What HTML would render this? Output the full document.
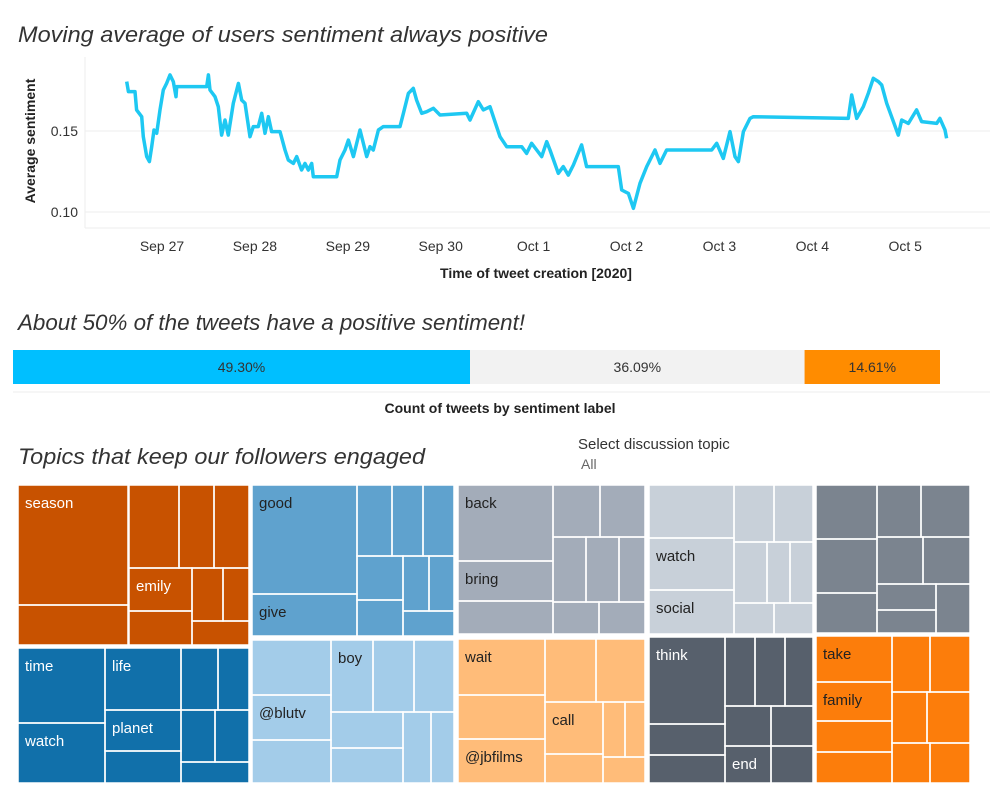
<!DOCTYPE html>
<html><head><meta charset="utf-8"><style>
body{margin:0;background:#fff;font-family:"Liberation Sans",sans-serif;}
svg text{font-family:"Liberation Sans",sans-serif;}
</style></head><body>
<svg id="dash" width="1000" height="800" viewBox="0 0 1000 800">
<text x="18" y="42" font-size="22" font-style="italic" fill="#333" textLength="530" lengthAdjust="spacingAndGlyphs">Moving average of users sentiment always positive</text>
<g id="linechart"></g>
<text x="18" y="330" font-size="22" font-style="italic" fill="#333" textLength="507" lengthAdjust="spacingAndGlyphs">About 50% of the tweets have a positive sentiment!</text>
<g id="barchart"></g>
<line x1="13" y1="392" x2="990" y2="392" stroke="#eee"/>
<text x="500" y="413" font-size="14" font-weight="bold" text-anchor="middle" fill="#222">Count of tweets by sentiment label</text>
<text x="18" y="464" font-size="22" font-style="italic" fill="#333" textLength="407" lengthAdjust="spacingAndGlyphs">Topics that keep our followers engaged</text>
<text x="578" y="449" font-size="15" fill="#333">Select discussion topic</text>
<text x="581" y="469" font-size="14" fill="#666">All</text>
<g id="treemap"></g>
</svg>
<script>
const NS="http://www.w3.org/2000/svg";
function mk(tag,attrs,parent){const e=document.createElementNS(NS,tag);for(const k in attrs)e.setAttribute(k,attrs[k]);parent.appendChild(e);return e;}

// ---- line chart data (days since Sep 27 00:00, value) ----
const days=[-0.380,-0.362,-0.291,-0.273,-0.219,-0.201,-0.165,-0.136,-0.111,-0.086,-0.057,-0.022,0.014,0.050,0.086,0.122,0.151,0.158,0.481,0.499,0.517,0.570,0.606,0.642,0.678,0.714,0.768,0.822,0.858,0.893,0.947,0.983,1.037,1.073,1.109,1.145,1.180,1.270,1.324,1.360,1.414,1.450,1.503,1.539,1.575,1.611,1.629,1.880,1.916,1.970,2.006,2.060,2.131,2.203,2.239,2.275,2.329,2.382,2.562,2.598,2.652,2.705,2.741,2.795,2.849,2.921,2.992,3.280,3.315,3.405,3.459,3.531,3.602,3.638,3.710,3.872,3.925,3.979,4.033,4.087,4.141,4.177,4.266,4.320,4.374,4.428,4.517,4.571,4.912,4.948,5.020,5.074,5.145,5.217,5.307,5.361,5.432,5.917,5.971,6.042,6.114,6.168,6.204,6.258,6.329,6.365,7.388,7.424,7.478,7.549,7.603,7.657,7.711,7.747,7.801,7.854,7.926,7.962,8.034,8.123,8.177,8.339,8.374,8.428,8.446];
const sentiment=[0.1805,0.1743,0.1743,0.1630,0.1588,0.1465,0.1342,0.1311,0.1403,0.1506,0.1486,0.1630,0.1753,0.1794,0.1846,0.1805,0.1712,0.1774,0.1774,0.1846,0.1753,0.1712,0.1650,0.1475,0.1568,0.1475,0.1671,0.1794,0.1691,0.1671,0.1465,0.1527,0.1527,0.1609,0.1486,0.1588,0.1496,0.1496,0.1383,0.1321,0.1300,0.1342,0.1259,0.1300,0.1259,0.1300,0.1218,0.1218,0.1321,0.1383,0.1444,0.1342,0.1506,0.1342,0.1403,0.1383,0.1506,0.1527,0.1527,0.1609,0.1733,0.1763,0.1691,0.1609,0.1619,0.1640,0.1599,0.1609,0.1568,0.1681,0.1630,0.1650,0.1527,0.1465,0.1403,0.1403,0.1362,0.1424,0.1383,0.1342,0.1434,0.1383,0.1239,0.1280,0.1228,0.1290,0.1414,0.1280,0.1280,0.1136,0.1115,0.1023,0.1177,0.1280,0.1383,0.1300,0.1383,0.1383,0.1424,0.1331,0.1496,0.1342,0.1311,0.1496,0.1578,0.1588,0.1578,0.1722,0.1578,0.1650,0.1733,0.1825,0.1805,0.1784,0.1671,0.1588,0.1475,0.1568,0.1547,0.1630,0.1558,0.1547,0.1578,0.1506,0.1455];
const xTickLabels=["Sep 27","Sep 28","Sep 29","Sep 30","Oct 1","Oct 2","Oct 3","Oct 4","Oct 5"];
const yTicks=[0.10,0.15];

const xS=d=>162+92.9*d;
const yS=v=>131-(v-0.15)*1620;
const lc=document.getElementById('linechart');
let el;
el=mk('line',{x1:85,y1:57,x2:85,y2:228,stroke:'#eee'},lc);


el=mk('line',{x1:85,y1:228,x2:990,y2:228,stroke:'#eee'},lc);


yTicks.forEach(t=>{
  const g=mk('line',{x1:85,y1:yS(t),x2:990,y2:yS(t),stroke:'#eee'},lc);
  
  
  const tx=mk('text',{x:78,y:yS(t)+5,'font-size':14,'text-anchor':'end',fill:'#333'},lc);
  tx.textContent=t.toFixed(2);
  
  
});
xTickLabels.forEach((l,i)=>{
  const tx=mk('text',{x:xS(i),y:251,'font-size':14,'text-anchor':'middle',fill:'#333'},lc);
  tx.textContent=l;
  
  
});
el=mk('text',{x:536,y:278,'font-size':14,'font-weight':'bold','text-anchor':'middle',fill:'#222'},lc);
el.textContent='Time of tweet creation [2020]';


el=mk('text',{x:0,y:0,'font-size':14,'font-weight':'bold','text-anchor':'middle',fill:'#222',transform:'translate(35,141) rotate(-90)'},lc);
el.textContent='Average sentiment';


const pts=days.map((d,i)=>xS(d).toFixed(1)+','+yS(sentiment[i]).toFixed(1)).join(' ');
el=mk('polyline',{points:pts,fill:'none',stroke:'#1ec8f2','stroke-width':3.5,'stroke-linejoin':'round'},lc);



// ---- bar chart ----
const sentLabels=["positive","neutral","negative"];
const sentShares=[49.30,36.09,14.61];
const sentColors=["#00bfff","#f2f2f2","#ff8c00"];
const bc=document.getElementById('barchart');
let bx=13;const fullW=927;
sentShares.forEach((s,i)=>{
  const w=fullW*s/100;
  const r=mk('rect',{x:bx,y:350,width:w,height:34,fill:sentColors[i]},bc);
  
  
  const t=mk('text',{x:bx+w/2,y:372,'font-size':14,'text-anchor':'middle',fill:'#333'},bc);
  t.textContent=s.toFixed(2)+'%';
  
  
  bx+=w;
});

// ---- treemap (layout rectangles) ----
const tm=document.getElementById('treemap');
const groups=[
 {c:'#c85200',tc:'#fff',b:[18,485,249,645],cells:[[18,485,128,605,'season'],[18,605,128,645],[129,485,179,568],[179,485,214,568],[214,485,249,568],[129,568,192,611,'emily'],[129,611,192,645],[192,568,223,621],[223,568,249,621],[192,621,249,645]]},
 {c:'#1170aa',tc:'#fff',b:[18,648,249,783],cells:[[18,648,105,723,'time'],[18,723,105,783,'watch'],[105,648,181,710,'life'],[105,710,181,751,'planet'],[105,751,181,783],[181,648,218,710],[218,648,249,710],[181,710,215,762],[215,710,249,762],[181,762,249,783]]},
 {c:'#5fa2ce',tc:'#222',b:[252,485,454,636],cells:[[252,485,357,594,'good'],[252,594,357,636,'give'],[357,485,392,556],[392,485,423,556],[423,485,454,556],[357,556,403,600],[357,600,403,636],[403,556,429,611],[429,556,454,611],[403,611,454,636]]},
 {c:'#a3cce9',tc:'#222',b:[252,640,454,783],cells:[[252,640,331,695],[252,695,331,740,'@blutv'],[252,740,331,783],[331,640,373,712,'boy'],[373,640,414,712],[414,640,454,712],[331,712,403,748],[331,748,403,783],[403,712,431,783],[431,712,454,783]]},
 {c:'#a3acb9',tc:'#222',b:[458,485,645,634],cells:[[458,485,553,561,'back'],[458,561,553,601,'bring'],[458,601,553,634],[553,485,600,537],[600,485,645,537],[553,537,586,602],[586,537,619,602],[619,537,645,602],[553,602,599,634],[599,602,645,634]]},
 {c:'#ffbc79',tc:'#222',b:[458,639,645,783],cells:[[458,639,545,695,'wait'],[458,695,545,739],[458,739,545,783,'@jbfilms'],[545,639,596,702],[596,639,645,702],[545,702,603,754,'call'],[545,754,603,783],[603,702,625,757],[625,702,645,757],[603,757,645,783]]},
 {c:'#c8d0d9',tc:'#222',b:[649,485,813,634],cells:[[649,485,734,538],[649,538,734,590,'watch'],[649,590,734,634,'social'],[734,485,774,542],[774,485,813,542],[734,542,767,603],[767,542,790,603],[790,542,813,603],[734,603,774,634],[774,603,813,634]]},
 {c:'#57606c',tc:'#fff',b:[649,637,813,783],cells:[[649,637,725,724,'think'],[649,724,725,755],[649,755,725,783],[725,637,755,706],[755,637,785,706],[785,637,813,706],[725,706,771,746],[771,706,813,746],[725,746,771,783,'end'],[771,746,813,783]]},
 {c:'#7b848f',tc:'#fff',b:[816,485,970,633],cells:[[816,485,877,539],[816,539,877,593],[816,593,877,633],[877,485,921,537],[921,485,970,537],[877,537,923,584],[923,537,970,584],[877,584,936,610],[877,610,936,633],[936,584,970,633]]},
 {c:'#fc7d0b',tc:'#222',b:[816,636,970,783],cells:[[816,636,892,682,'take'],[816,682,892,721,'family'],[816,721,892,752],[816,752,892,783],[892,636,930,692],[930,636,970,692],[892,692,927,743],[927,692,970,743],[892,743,930,783],[930,743,970,783]]}
];
groups.forEach((g,gi)=>{
  const [x0,y0,x1,y1]=g.b;
  const gr=mk('rect',{x:x0,y:y0,width:x1-x0,height:y1-y0,fill:g.c},tm);
  
  
  g.cells.forEach(c=>{
    const r=mk('rect',{x:c[0],y:c[1],width:c[2]-c[0],height:c[3]-c[1],fill:'none',stroke:'#fff','stroke-width':1.5},tm);
    
    
    if(c[4]){
      const t=mk('text',{x:c[0]+7,y:c[1]+23,'font-size':15,fill:g.tc},tm);
      t.textContent=c[4];
      
      
    }
  });
});
</script>
</body></html>
